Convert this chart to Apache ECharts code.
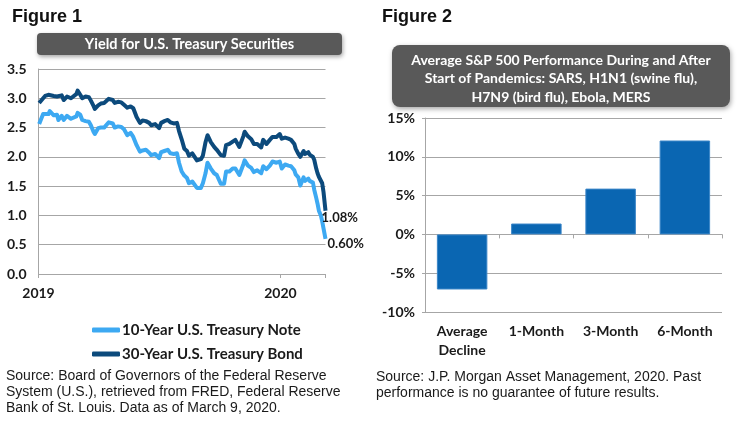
<!DOCTYPE html>
<html>
<head>
<meta charset="utf-8">
<script src="https://cdn.jsdelivr.net/npm/echarts@6/dist/echarts.min.js"></script>
<style>
html,body{margin:0;padding:0;background:#fff;}
#chart{width:740px;height:430px;}
</style>
</head>
<body>
<div id="chart"></div>
<script>
// ---- Figure 1 data (U.S. Treasury yields, %) ----
var yieldDates = [
 '2019-01-02','2019-01-08','2019-01-11','2019-01-16','2019-01-18','2019-01-24','2019-01-29','2019-01-31',
 '2019-02-05','2019-02-08','2019-02-13','2019-02-19','2019-02-22','2019-02-27','2019-03-01','2019-03-05',
 '2019-03-08','2019-03-13','2019-03-18','2019-03-21','2019-03-25','2019-03-27','2019-04-01','2019-04-05',
 '2019-04-10','2019-04-17','2019-04-23','2019-04-26','2019-05-01','2019-05-06','2019-05-10','2019-05-15',
 '2019-05-20','2019-05-24','2019-05-29','2019-06-03','2019-06-07','2019-06-12','2019-06-17','2019-06-20',
 '2019-06-26','2019-07-02','2019-07-05','2019-07-10','2019-07-15','2019-07-19','2019-07-24','2019-07-29',
 '2019-08-01','2019-08-05','2019-08-09','2019-08-13','2019-08-16','2019-08-21','2019-08-28','2019-09-03',
 '2019-09-06','2019-09-10','2019-09-13','2019-09-18','2019-09-23','2019-09-27','2019-10-03','2019-10-08',
 '2019-10-11','2019-10-16','2019-10-21','2019-10-25','2019-10-31','2019-11-06','2019-11-08','2019-11-13',
 '2019-11-18','2019-11-22','2019-11-27','2019-12-03','2019-12-06','2019-12-11','2019-12-16','2019-12-20',
 '2019-12-26','2019-12-31','2020-01-03','2020-01-08','2020-01-13','2020-01-17','2020-01-22','2020-01-24',
 '2020-01-28','2020-01-31','2020-02-05','2020-02-07','2020-02-12','2020-02-14','2020-02-19','2020-02-21',
 '2020-02-24','2020-02-26','2020-02-28','2020-03-02','2020-03-04','2020-03-06','2020-03-09'
];
var bond30 = [
 2.92,3.00,3.04,3.06,3.09,3.04,3.03,3.00,
 3.05,2.97,3.03,3.00,3.02,3.07,3.13,3.06,
 3.00,3.03,3.02,2.96,2.87,2.82,2.88,2.91,
 2.92,2.99,2.97,2.92,2.94,2.93,2.89,2.84,
 2.86,2.83,2.68,2.58,2.62,2.61,2.58,2.54,
 2.56,2.49,2.58,2.61,2.63,2.59,2.57,2.58,
 2.44,2.30,2.14,2.10,2.02,2.06,1.94,1.96,
 2.02,2.25,2.37,2.25,2.17,2.12,2.03,2.02,
 2.20,2.22,2.26,2.29,2.17,2.35,2.43,2.35,
 2.30,2.22,2.22,2.16,2.29,2.22,2.29,2.34,
 2.34,2.39,2.31,2.33,2.31,2.29,2.22,2.14,
 2.05,2.00,2.10,2.05,2.08,2.04,2.00,1.95,
 1.80,1.72,1.66,1.64,1.55,1.40,1.08
];
var note10 = [
 2.56,2.73,2.71,2.73,2.78,2.71,2.72,2.63,
 2.70,2.63,2.70,2.65,2.65,2.69,2.75,2.72,
 2.63,2.61,2.60,2.54,2.43,2.39,2.49,2.50,
 2.50,2.59,2.57,2.50,2.52,2.51,2.47,2.37,
 2.41,2.34,2.20,2.09,2.11,2.12,2.07,2.03,
 2.05,1.98,2.08,2.10,2.12,2.06,2.05,2.06,
 1.90,1.75,1.68,1.64,1.55,1.58,1.47,1.47,
 1.55,1.72,1.90,1.80,1.72,1.69,1.54,1.54,
 1.75,1.75,1.80,1.80,1.69,1.87,1.94,1.85,
 1.81,1.74,1.77,1.72,1.84,1.79,1.85,1.92,
 1.90,1.92,1.80,1.87,1.85,1.84,1.77,1.70,
 1.65,1.51,1.65,1.59,1.63,1.59,1.56,1.44,
 1.30,1.20,1.08,1.00,0.90,0.78,0.60
];
var yieldTicks = {0:'2019', 365:'2020'};

// ---- Figure 2 data (S&P 500 performance, %) ----
var perfCategories = ['Average\nDecline','1-Month','3-Month','6-Month'];
var perfValues = [-7.1, 1.4, 5.9, 12.1];

var base = Date.UTC(2019,0,1);
function dayOf(s){ var p = s.split('-'); return (Date.UTC(+p[0], +p[1]-1, +p[2]) - base)/86400000; }
function pairs(vals){ return yieldDates.map(function(d,i){ return [dayOf(d), vals[i]]; }); }

var lblFont = 'Lato, "Open Sans", sans-serif';
var gridColor = '#a6a6a6';
var textDark = '#1a1a1a';

var chart = echarts.init(document.getElementById('chart'), null, {renderer:'canvas'});
chart.setOption({
  animation:false,
  backgroundColor:'#ffffff',
  grid:[
    {left:38.5, top:69, width:287, height:205},
    {left:425, top:118, width:297, height:194}
  ],
  xAxis:[
    {gridIndex:0, type:'value', min:0, max:433, interval:365,
     axisLine:{show:true, lineStyle:{color:gridColor}},
     axisTick:{show:true, length:4, lineStyle:{color:gridColor}},
     splitLine:{show:false},
     axisLabel:{margin:12, fontFamily:lblFont, fontWeight:'bold', fontSize:14, color:textDark,
       formatter:function(v){ return yieldTicks[v] || ''; }}
    },
    {gridIndex:1, type:'category', data:perfCategories, position:'bottom',
     axisLine:{show:false, onZero:false}, axisTick:{show:false},
     axisLabel:{margin:10, fontFamily:lblFont, fontWeight:'bold', fontSize:14, color:textDark, lineHeight:19}
    },
    {gridIndex:1, type:'category', data:perfCategories, position:'top',
     axisLine:{show:true, onZero:true, lineStyle:{color:gridColor}},
     axisTick:{show:true, inside:true, length:4, lineStyle:{color:gridColor}},
     axisLabel:{show:false}
    }
  ],
  yAxis:[
    {gridIndex:0, type:'value', min:0, max:3.5, interval:0.5,
     axisLine:{show:true, lineStyle:{color:gridColor}},
     axisTick:{show:false},
     splitLine:{show:true, lineStyle:{color:gridColor}},
     axisLabel:{margin:12, fontFamily:lblFont, fontWeight:'bold', fontSize:14, color:textDark,
       formatter:function(v){ return v.toFixed(1); }}
    },
    {gridIndex:1, type:'value', min:-10, max:15, interval:5,
     axisLine:{show:true, lineStyle:{color:gridColor}},
     axisTick:{show:true, length:3, lineStyle:{color:gridColor}},
     splitLine:{show:true, lineStyle:{color:gridColor}},
     axisLabel:{margin:10, fontFamily:lblFont, fontWeight:'bold', fontSize:14, color:textDark,
       formatter:'{value}%'}
    }
  ],
  legend:{
    left:87, top:317, orient:'vertical', itemWidth:28, itemHeight:5, itemGap:8,
    icon:'roundRect',
    textStyle:{fontFamily:lblFont, fontWeight:'bold', fontSize:15, color:textDark, lineHeight:16, padding:[0,0,0,-3]},
    data:['10-Year U.S. Treasury Note','30-Year U.S. Treasury Bond']
  },
  series:[
    {name:'30-Year U.S. Treasury Bond', type:'line', xAxisIndex:0, yAxisIndex:0, data:pairs(bond30),
     symbol:'none', color:'#0c4a7c', lineStyle:{width:4, color:'#0c4a7c', join:'round'},
     endLabel:{show:true, distance:0, offset:[-4,7], fontFamily:lblFont, fontWeight:'bold', fontSize:13, color:textDark,
       formatter:function(p){ return p.value[1].toFixed(2)+'%'; }}
    },
    {name:'10-Year U.S. Treasury Note', type:'line', xAxisIndex:0, yAxisIndex:0, data:pairs(note10),
     symbol:'none', color:'#3da9f2', lineStyle:{width:4, color:'#3da9f2', join:'round'},
     endLabel:{show:true, distance:0, offset:[2,5], fontFamily:lblFont, fontWeight:'bold', fontSize:13, color:textDark,
       formatter:function(p){ return p.value[1].toFixed(2)+'%'; }}
    },
    {name:'S&P 500', type:'bar', xAxisIndex:1, yAxisIndex:1, data:perfValues, barWidth:'68%',
     itemStyle:{color:'#0a66b2', borderColor:'#3b86c8', borderWidth:1}
    }
  ],
  graphic:[
    {type:'text', left:12, top:8, style:{text:'Figure 1', font:'bold 18px "Liberation Sans", Arial, sans-serif', fill:'#111'}},
    {type:'text', left:382, top:8, style:{text:'Figure 2', font:'bold 18px "Liberation Sans", Arial, sans-serif', fill:'#111'}},
    {type:'rect', shape:{x:37, y:33, width:305, height:22, r:4},
     style:{fill:'#595959', shadowBlur:4, shadowOffsetX:1, shadowOffsetY:2, shadowColor:'rgba(0,0,0,0.35)'}},
    {type:'text', x:189.5, y:44, style:{text:'Yield for U.S. Treasury Securities', font:'bold 14.5px Lato, sans-serif', fill:'#ffffff', align:'center', verticalAlign:'middle'}},
    {type:'rect', shape:{x:392, y:45, width:338, height:62, r:8},
     style:{fill:'#595959', shadowBlur:5, shadowOffsetX:1, shadowOffsetY:2, shadowColor:'rgba(0,0,0,0.35)'}},
    {type:'text', x:561, y:78.5, style:{text:'Average S&P 500 Performance During and After\nStart of Pandemics: SARS, H1N1 (swine flu),\nH7N9 (bird flu), Ebola, MERS', font:'bold 14px Lato, sans-serif', lineHeight:18.5, fill:'#ffffff', align:'center', verticalAlign:'middle'}},
    {type:'text', left:6, top:368, style:{text:'Source: Board of Governors of the Federal Reserve\nSystem (U.S.), retrieved from FRED, Federal Reserve\nBank of St. Louis. Data as of March 9, 2020.', font:'14px "Liberation Sans", Arial, sans-serif', lineHeight:16, fill:'#1a1a1a'}},
    {type:'text', left:376, top:369, style:{text:'Source: J.P. Morgan Asset Management, 2020. Past\nperformance is no guarantee of future results.', font:'14px "Liberation Sans", Arial, sans-serif', lineHeight:16, fill:'#1a1a1a'}}
  ]
});
</script>
</body>
</html>
